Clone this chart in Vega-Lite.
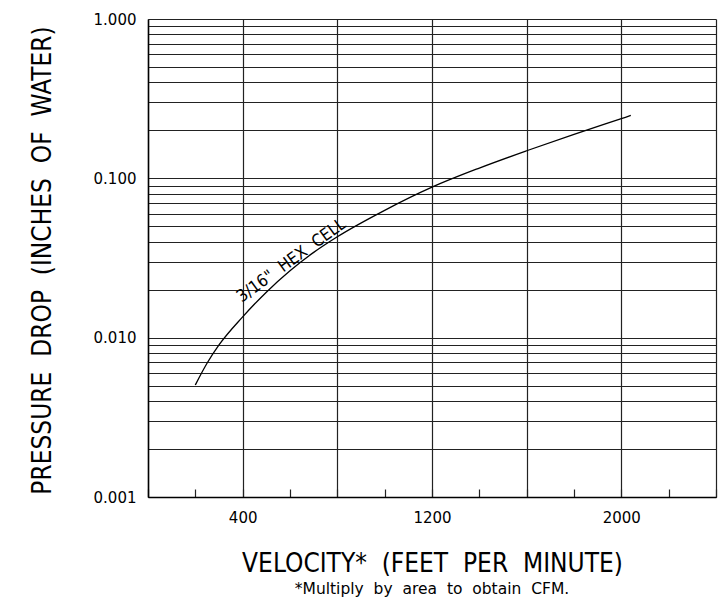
{
  "$schema": "https://vega.github.io/schema/vega-lite/v6.json",
  "width": 568,
  "height": 478,
  "autosize": {"type": "none"},
  "padding": {"left": 148, "top": 19, "right": 3, "bottom": 116},
  "background": "white",
  "config": {
    "view": {"stroke": null},
    "font": "DejaVu Sans"
  },
  "title": {
    "text": "*Multiply\u00a0 by\u00a0 area\u00a0 to\u00a0 obtain\u00a0 CFM.",
    "orient": "bottom",
    "anchor": "middle",
    "fontSize": 15.5,
    "font": "DejaVu Sans",
    "fontWeight": "normal",
    "color": "black",
    "offset": 6
  },
  "datasets": {
    "curve": [
      {"velocity": 200, "pressure": 0.00505},
      {"velocity": 250, "pressure": 0.00693},
      {"velocity": 300, "pressure": 0.00900},
      {"velocity": 400, "pressure": 0.0135},
      {"velocity": 500, "pressure": 0.0193},
      {"velocity": 600, "pressure": 0.0263},
      {"velocity": 700, "pressure": 0.0343},
      {"velocity": 800, "pressure": 0.0430},
      {"velocity": 1000, "pressure": 0.0630},
      {"velocity": 1200, "pressure": 0.088},
      {"velocity": 1400, "pressure": 0.116},
      {"velocity": 1600, "pressure": 0.149},
      {"velocity": 1800, "pressure": 0.189},
      {"velocity": 2000, "pressure": 0.237},
      {"velocity": 2040, "pressure": 0.248}
    ],
    "label": [
      {"velocity": 606, "pressure": 0.0305, "text": "3/16\"\u00a0 HEX\u00a0 CELL"}
    ]
  },
  "layer": [
    {
      "data": {"name": "curve"},
      "mark": {"type": "line", "color": "black", "strokeWidth": 1.3, "interpolate": "monotone", "clip": true},
      "encoding": {
        "x": {
          "field": "velocity",
          "type": "quantitative",
          "scale": {"domain": [0, 2400], "nice": false, "zero": false},
          "axis": {
            "title": "VELOCITY*\u00a0 (FEET\u00a0 PER\u00a0 MINUTE)",
            "values": [0, 200, 400, 600, 800, 1000, 1200, 1400, 1600, 1800, 2000, 2200, 2400],
            "labelExpr": "indexof([400, 1200, 2000], datum.value) >= 0 ? datum.label : ''",
            "format": "d",
            "grid": true,
            "gridColor": "#222",
            "gridWidth": 1.2,
            "gridOpacity": {"condition": {"test": "datum.value % 400 === 0", "value": 1}, "value": 0},
            "ticks": true,
            "tickSize": -8,
            "tickColor": "#222",
            "tickWidth": 1.2,
            "domain": true,
            "domainColor": "black",
            "domainWidth": 1.5,
            "labelFont": "DejaVu Sans",
            "labelFontSize": 15,
            "labelColor": "black",
            "labelPadding": 21,
            "titleFont": "DejaVu Sans Condensed",
            "titleFontSize": 26,
            "titleFontWeight": "normal",
            "titleColor": "black",
            "titleBaseline": "middle",
            "titleY": 66
          }
        },
        "y": {
          "field": "pressure",
          "type": "quantitative",
          "scale": {"type": "log", "domain": [0.001, 1], "nice": false},
          "axis": {
            "title": "PRESSURE\u00a0 DROP\u00a0 (INCHES\u00a0 OF\u00a0 WATER)",
            "values": [0.001, 0.002, 0.003, 0.004, 0.005, 0.006, 0.007, 0.008, 0.009, 0.01, 0.02, 0.03, 0.04, 0.05, 0.06, 0.07, 0.08, 0.09, 0.1, 0.2, 0.3, 0.4, 0.5, 0.6, 0.7, 0.8, 0.9, 1],
            "labelExpr": "indexof([0.001, 0.01, 0.1, 1], datum.value) >= 0 ? format(datum.value, '.3f') : ''",
            "grid": true,
            "gridColor": "#222",
            "gridWidth": 1.2,
            "ticks": false,
            "domain": true,
            "domainColor": "black",
            "domainWidth": 1.5,
            "labelFont": "DejaVu Sans",
            "labelFontSize": 15,
            "labelColor": "black",
            "labelPadding": 12,
            "titleFont": "DejaVu Sans Condensed",
            "titleFontSize": 26,
            "titleFontWeight": "normal",
            "titleColor": "black",
            "titleAngle": -90,
            "titleBaseline": "middle",
            "titleAlign": "center",
            "titleX": -106,
            "titleY": 241
          }
        }
      }
    },
    {
      "data": {"name": "label"},
      "mark": {"type": "text", "angle": -36, "fontSize": 17, "font": "DejaVu Sans Condensed", "color": "black", "baseline": "middle", "align": "center"},
      "encoding": {
        "x": {"field": "velocity", "type": "quantitative"},
        "y": {"field": "pressure", "type": "quantitative"},
        "text": {"field": "text"}
      }
    }
  ]
}
